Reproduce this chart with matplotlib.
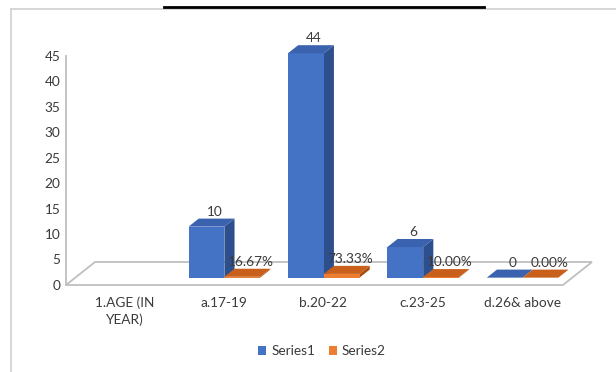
import numpy as np
import matplotlib
matplotlib.use("Agg")
import matplotlib.pyplot as plt
from matplotlib.patches import Polygon, Patch
from matplotlib.lines import Line2D

plt.rcParams['font.family'] = ['Lato', 'DejaVu Sans']

# --- data -------------------------------------------------------------
categories = ["1.AGE (IN\nYEAR)", "a.17-19", "b.20-22", "c.23-25", "d.26& above"]
series1 = [np.nan, 10, 44, 6, 0]
series2 = [np.nan, 0.1667, 0.7333, 0.10, 0.0]
series_names = ["Series1", "Series2"]
y_ticks = list(range(0, 50, 5))

# --- styling ----------------------------------------------------------
W, H = 616, 372
blue = dict(front="#4472C4", top="#3A62AE", side="#2E4F8E")
orange = dict(front="#ED7D31", top="#C8601C", side="#A94E12")
grid_col = "#BFBFBF"
text_col = "#3A3A3A"
fs = 9.8

fig = plt.figure(figsize=(W / 100, H / 100), dpi=100)

# chart frame and heading rule
fig.add_artist(Line2D([11 / W, 11 / W], [0, 1 - 8.5 / H], color="#D0D0D0", lw=1.2))
fig.add_artist(Line2D([11 / W, 1], [1 - 8.5 / H, 1 - 8.5 / H], color="#D0D0D0", lw=1.2))
fig.add_artist(Line2D([164 / W, 484 / W], [1 - 7 / H, 1 - 7 / H], color="black", lw=2.0))

# plot area (front plane of the 3-D box)
left_px, right_px, base_px, top_px = 66, 563, 285, 285 - 45 * 5.1
ax = fig.add_axes([left_px / W, 1 - base_px / H, (right_px - left_px) / W, (base_px - top_px) / H])
ax.set_xlim(-0.5, len(categories) - 0.5)
ax.set_ylim(0, 45)

px_x = (right_px - left_px) / len(categories)   # pixels per category
px_y = (base_px - top_px) / 45                   # pixels per unit
depth = np.array([29 / px_x, 23 / px_y])          # full floor depth in data units

for s in ["top", "right", "bottom"]:
    ax.spines[s].set_visible(False)
ax.spines["left"].set_color(grid_col)
ax.spines["left"].set_linewidth(1.3)
ax.set_yticks(y_ticks)
ax.tick_params(axis="y", length=0, pad=4, labelsize=fs, labelcolor=text_col)
ax.set_xticks(np.arange(len(categories)) + 0.09)
ax.set_xticklabels(categories, fontsize=fs, color=text_col, linespacing=1.35)
ax.tick_params(axis="x", length=0, pad=8.5)

# floor outline
x0, x1 = -0.5, len(categories) - 0.5
floor = [(x0, 0), (x1, 0), (x1 + depth[0], depth[1]), (x0 + depth[0], depth[1])]
ax.add_patch(Polygon(floor, closed=True, fill=False, edgecolor=grid_col, lw=1.3,
                     clip_on=False, zorder=1))

bar_w = 0.36
d_front, d_back = 0.32, 0.67


def box(xl, val, col):
    """Draw an extruded column with front, side and top faces."""
    fx, fy = depth * d_front
    bx, by = depth * d_back
    a = (xl + fx, fy)
    b = (xl + bar_w + fx, fy)
    c = (xl + bar_w + fx, fy + val)
    d = (xl + fx, fy + val)
    sh = (bx - fx, by - fy)
    side = [b, c, (c[0] + sh[0], c[1] + sh[1]), (b[0] + sh[0], b[1] + sh[1])]
    top = [d, c, (c[0] + sh[0], c[1] + sh[1]), (d[0] + sh[0], d[1] + sh[1])]
    kw = dict(closed=True, clip_on=False, zorder=3, lw=0)
    ax.add_patch(Polygon(side, facecolor=col["side"], **kw))
    ax.add_patch(Polygon([a, b, c, d], facecolor=col["front"], **kw))
    ax.add_patch(Polygon(top, facecolor=col["top"], **kw))
    return fy + val


for i in range(len(categories)):
    v1, v2 = series1[i], series2[i]
    if not np.isnan(v1):
        ytop = box(i - bar_w, v1, blue)
        ax.text(i - bar_w / 2 + 0.08 + depth[0] * d_front, ytop + 2.9, f"{v1:g}",
                ha="center", va="center", fontsize=fs, color=text_col, zorder=5, clip_on=False)
    if not np.isnan(v2):
        ytop = box(i, v2, orange)
        ax.text(i + 0.36, ytop + 2.9, f"{v2:.2%}",
                ha="center", va="center", fontsize=fs, color=text_col, zorder=5, clip_on=False)

handles = [Patch(facecolor=blue["front"]), Patch(facecolor=orange["front"])]
fig.legend(handles, series_names, loc="center", bbox_to_anchor=(322 / W, 1 - 351 / H),
           ncol=2, frameon=False, fontsize=fs, handlelength=0.6, handleheight=0.6,
           handletextpad=0.35, columnspacing=1.0, labelcolor=text_col)

fig.savefig("out.png", dpi=100)
